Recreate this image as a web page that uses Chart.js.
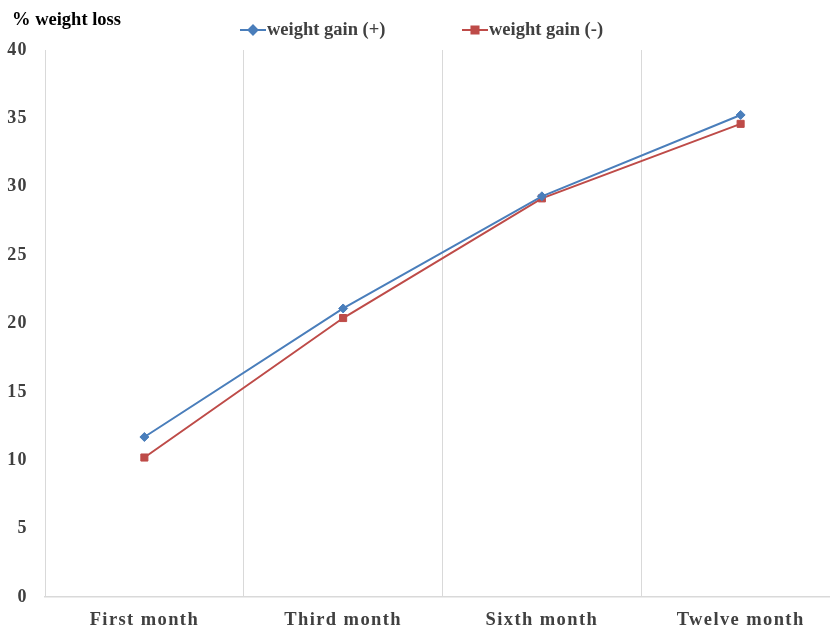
<!DOCTYPE html>
<html>
<head>
<meta charset="utf-8">
<script src="https://cdn.jsdelivr.net/npm/chart.js@4"></script>
<style>
  html, body { margin: 0; padding: 0; background: #fff; overflow: hidden; }
  #wrap { width: 846px; height: 627px; position: relative; }
</style>
</head>
<body>
<div id="wrap"><canvas id="c"></canvas></div>
<script>
const categories = ['First month', 'Third month', 'Sixth month', 'Twelve month'];
const gainPlus = [11.7, 21.1, 29.3, 35.25];
const gainMinus = [10.2, 20.4, 29.15, 34.6];
const seriesNames = ['weight gain (+)', 'weight gain (-)'];
const yTitle = '% weight loss';

const BLUE = '#4a7ebb';
const RED = '#be4b48';
const FONT = '"Liberation Serif", "Times New Roman", serif';

const headerPlugin = {
  id: 'header',
  afterDraw(chart) {
    const ctx = chart.ctx;
    ctx.save();
    ctx.letterSpacing = '0px';
    ctx.font = 'bold 18.5px ' + FONT;
    ctx.fillStyle = '#000';
    ctx.textBaseline = 'middle';
    ctx.textAlign = 'left';
    ctx.fillText(yTitle, 12, 20);
    const items = [
      { x: 240, ds: chart.data.datasets[0] },
      { x: 462, ds: chart.data.datasets[1] }
    ];
    const y = 30;
    items.forEach(it => {
      const ds = it.ds;
      ctx.strokeStyle = ds.borderColor;
      ctx.lineWidth = 2;
      ctx.beginPath();
      ctx.moveTo(it.x, y);
      ctx.lineTo(it.x + 26, y);
      ctx.stroke();
      Chart.helpers.drawPoint(ctx, {
        pointStyle: ds.pointStyle,
        radius: ds.pointRadius,
        rotation: 0,
        borderWidth: 1
      }, it.x + 13, y);
      ctx.fillStyle = ds.borderColor;
      ctx.fill();
      ctx.fillStyle = '#404040';
      ctx.fillText(ds.label, it.x + 27, y);
    });
    ctx.restore();
  }
};

const spacingPlugin = {
  id: 'spacing',
  beforeInit(chart) { chart.ctx.letterSpacing = '1.4px'; },
  beforeUpdate(chart) { chart.ctx.letterSpacing = '1.4px'; },
  beforeDraw(chart) { chart.ctx.letterSpacing = '1.4px'; }
};

new Chart(document.getElementById('c'), {
  type: 'line',
  data: {
    labels: categories,
    datasets: [
      {
        label: seriesNames[0],
        data: gainPlus,
        borderColor: BLUE,
        backgroundColor: BLUE,
        borderWidth: 2,
        pointStyle: 'rectRot',
        pointRadius: 4.5,
        pointHoverRadius: 4.5,
        pointBorderWidth: 1,
        tension: 0
      },
      {
        label: seriesNames[1],
        data: gainMinus,
        borderColor: RED,
        backgroundColor: RED,
        borderWidth: 2,
        pointStyle: 'rect',
        pointRadius: 5,
        pointHoverRadius: 5,
        pointBorderWidth: 1,
        tension: 0
      }
    ]
  },
  options: {
    responsive: true,
    maintainAspectRatio: false,
    animation: false,
    devicePixelRatio: 1,
    layout: { padding: { top: 50, left: 0, right: 0, bottom: 0 } },
    plugins: {
      legend: { display: false },
      title: { display: false },
      tooltip: { enabled: false }
    },
    scales: {
      x: {
        type: 'category',
        offset: true,
        grid: { display: true, offset: true, color: '#d9d9d9', lineWidth: 1, drawTicks: false },
        border: { display: true, color: '#d9d9d9', width: 1.5 },
        ticks: {
          padding: 12,
          color: '#404040',
          font: { family: FONT, size: 18.5, weight: 'bold' },
          maxRotation: 0,
          autoSkip: false
        },
        afterFit(s) { s.height = 30; }
      },
      y: {
        min: 0,
        max: 40,
        grid: { display: false, drawTicks: false },
        border: { display: false },
        ticks: {
          stepSize: 5,
          padding: 17,
          color: '#404040',
          font: { family: FONT, size: 18, weight: 'bold' }
        },
        afterFit(s) { s.width = 45; }
      }
    }
  },
  plugins: [spacingPlugin, headerPlugin]
});
</script>
</body>
</html>
